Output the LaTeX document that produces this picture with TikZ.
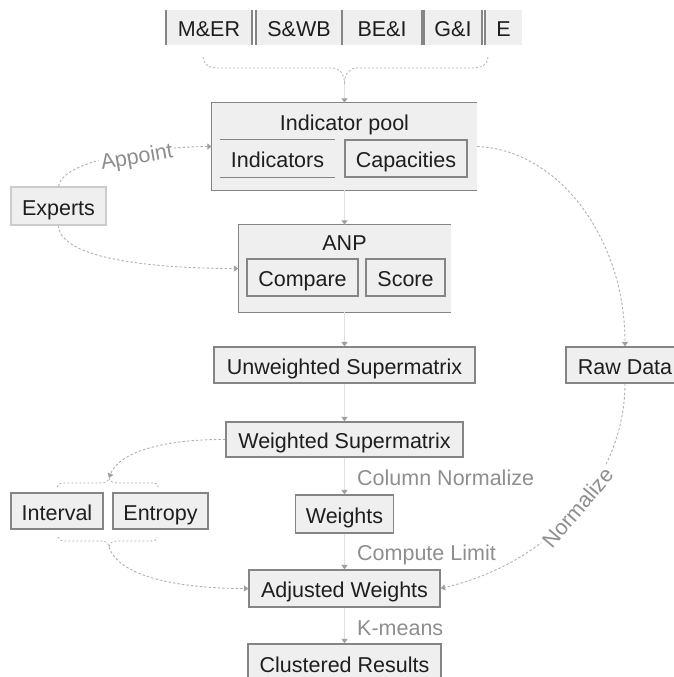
\documentclass[tikz,border=0pt]{standalone}
\usepackage{fontspec}
\setmainfont{Liberation Sans}
\usetikzlibrary{arrows.meta}
\definecolor{boxfill}{HTML}{EFEFEF}
\definecolor{edgegray}{HTML}{858585}
\definecolor{ink}{HTML}{1E1E1E}
\definecolor{notegray}{HTML}{8E8E8E}
\definecolor{wiregray}{HTML}{E0E0E0}
\definecolor{curvegray}{HTML}{B0B0B0}
\definecolor{tipgray}{HTML}{A0A0A0}
\begin{document}
\begin{tikzpicture}[x=1pt,y=-1pt,
  txt/.style={font=\fontsize{21.5}{24}\selectfont, text=ink, text height=20pt, text depth=2pt, inner sep=0pt},
  cell/.style={txt, fill=boxfill, draw=edgegray, line width=1.2pt},
  flat/.style={txt, fill=boxfill},
  note/.style={font=\fontsize{21.5}{24}\selectfont, text=notegray, inner sep=0pt},
  flow/.style={draw=wiregray, line width=0.9pt, -{Triangle[width=6pt,length=4.5pt,color=tipgray]}},
  soft/.style={draw=curvegray, line width=0.9pt, dash pattern=on 2.5pt off 2pt, -{Triangle[width=6pt,length=4.5pt,color=tipgray]}},
  rim/.style={draw=edgegray, line width=1.2pt},
  brc/.style={draw=curvegray, line width=0.8pt, dash pattern=on 2pt off 2pt},
]
\clip (0,0) rectangle (674,677);

% category strip
\node[flat, minimum width=86pt, minimum height=35pt] (mer) at (209,27.5) {M\&ER};
\node[flat, minimum width=86pt, minimum height=35pt] (swb) at (299,27.5) {S\&WB};
\node[flat, minimum width=80pt, minimum height=35pt] (bei) at (382,27.5) {BE\&I};
\node[flat, minimum width=58pt, minimum height=35pt] (gi) at (453,27.5) {G\&I};
\node[flat, minimum width=37pt, minimum height=35pt] (e) at (503.5,27.5) {E};
\draw[rim, line width=1.6pt] (mer.north west) -- (mer.south west);
\draw[rim, line width=1.6pt] (mer.north east) -- (mer.south east);
\draw[rim, line width=1.6pt] (swb.north west) -- (swb.south west);
\draw[rim, line width=1.6pt] (swb.north east) -- (swb.south east);
\draw[rim, line width=1.6pt] (bei.north east) -- (bei.south east);
\draw[rim, line width=1.6pt] (gi.north west) -- (gi.south west);
\draw[rim, line width=1.6pt] (gi.north east) -- (gi.south east);
\draw[rim, line width=1.6pt] (e.north west) -- (e.south west);

% indicator pool
\node[flat, minimum width=265pt, minimum height=87pt] (ip) at (344.5,146.5) {};
\draw[rim] (ip.north east) -- (ip.north west) -- (ip.south west) -- (ip.south east);
\node[txt, anchor=base] (iptitle) at (344.5,130) {Indicator pool};
\node[flat, minimum width=115pt, minimum height=37pt] (ind) at (277.5,158.5) {Indicators};
\draw[rim] (ind.north west) -- (ind.north east);
\draw[rim] (ind.south west) -- (ind.south east);
\node[cell, minimum width=122pt, minimum height=37pt] (cap) at (406,158.5) {Capacities};

% experts
\node[cell, draw=gray!40, minimum width=95pt, minimum height=38pt] (exp) at (58.5,206) {Experts};

% ANP
\node[flat, minimum width=212pt, minimum height=87pt] (anp) at (344.5,268.5) {};
\draw[rim] (anp.north east) -- (anp.north west) -- (anp.south west) -- (anp.south east);
\node[txt, anchor=base] (anptitle) at (344.5,250.7) {ANP};
\node[cell, minimum width=111pt, minimum height=37pt] (cmp) at (302.5,277.5) {Compare};
\node[cell, minimum width=79pt, minimum height=37pt] (scr) at (405.5,277.5) {Score};

% main column
\node[cell, minimum width=261pt, minimum height=36pt] (unw) at (344.5,365) {Unweighted Supermatrix};
\node[cell, minimum width=118pt, minimum height=36pt] (raw) at (625,365) {Raw Data};
\node[cell, minimum width=237pt, minimum height=35pt] (wsm) at (344.5,439.5) {Weighted Supermatrix};
\node[cell, minimum width=92pt, minimum height=36pt] (itv) at (57,511) {Interval};
\node[cell, minimum width=95pt, minimum height=36pt] (ent) at (160.5,511) {Entropy};
\node[cell, minimum width=98pt, minimum height=38pt] (wts) at (344.5,514) {Weights};
\node[cell, minimum width=191pt, minimum height=37pt] (adj) at (344.5,588.5) {Adjusted Weights};
\node[cell, minimum width=193pt, minimum height=38pt] (clu) at (344.5,663) {Clustered Results};

% step labels
\node[note, anchor=base west] (lcn) at (357,485) {Column Normalize};
\node[note, anchor=base west] (lcl) at (357,560) {Compute Limit};
\node[note, anchor=base west] (lkm) at (357,635) {K-means};

% braces
\coordinate (bt) at (344.5,84);
\coordinate (ubt) at (109,478);
\coordinate (lbt) at (109,547);
\draw[brc] (203,57) .. controls (204,65) and (209,68) .. (218,68) -- (332,68)
  .. controls (340,68) and (344.5,74) .. (bt);
\draw[brc] (488,57) .. controls (487,65) and (482,68) .. (472,68) -- (357,68)
  .. controls (349,68) and (344.5,74) .. (bt);
\draw[brc] (57,487) .. controls (58,484) and (60,483) .. (64,483) -- (100,483)
  .. controls (105,483) and (108,482) .. (ubt) .. controls (110,482) and (113,483) .. (118,483)
  -- (152,483) .. controls (156,483) and (158,484) .. (158,487);
\draw[brc] (58,537) .. controls (59,540) and (61,541) .. (65,541) -- (100,541)
  .. controls (105,541) and (108,542) .. (lbt) .. controls (110,542) and (113,541) .. (118,541)
  -- (150,541) .. controls (154,541) and (157,540) .. (157,537);

% vertical flow
\draw[flow] (bt) -- (ip.north);
\draw[flow] (ip.south) -- (anp.north);
\draw[flow] (anp.south) -- (unw.north);
\draw[flow] (unw.south) -- (wsm.north);
\draw[flow] (wsm.south) -- (wts.north);
\draw[flow] (wts.south) -- (adj.north);
\draw[flow] (adj.south) -- (clu.north);

% curved links
\draw[soft] (exp.north) .. controls (62,160) and (150,147) .. (ip.west);
\node[note, fill=white, inner sep=1.5pt, rotate=10] (appoint) at (137,158) {Appoint};
\draw[soft] (exp.south) .. controls (60,262) and (170,268.5) .. (anp.west);
\draw[soft] (ip.east) .. controls (560,150) and (625,240) .. (raw.north);
\draw[soft] (raw.south) .. controls (625,470) and (560,560) .. (adj.east)
  node[note, fill=white, inner sep=1.5pt, sloped, pos=0.5] (normalize) {Normalize};
\draw[soft] (wsm.west) .. controls (170,439) and (120,450) .. (ubt);
\draw[soft] (lbt) .. controls (120,580) and (190,588.5) .. (adj.west);
\end{tikzpicture}
\end{document}
